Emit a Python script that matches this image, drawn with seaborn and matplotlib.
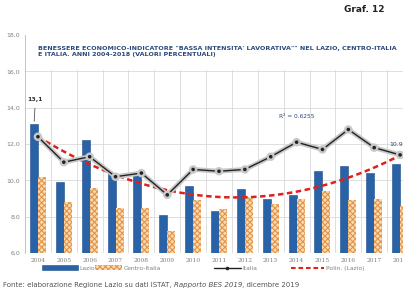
import numpy as np
import pandas as pd
import matplotlib
matplotlib.use("Agg")
import matplotlib.pyplot as plt
import seaborn as sns
from matplotlib.patches import Patch, Rectangle
from matplotlib.lines import Line2D
import matplotlib.patheffects as pe

years = ["2004", "2005", "2006", "2007", "2008", "2009", "2010", "2011",
         "2012", "2013", "2014", "2015", "2016", "2017", "2018"]
lazio = [13.1, 9.9, 12.2, 10.4, 10.3, 8.1, 9.7, 8.3, 9.5, 9.0, 9.2, 10.5, 10.8, 10.4, 10.9]
centro = [10.2, 8.8, 9.6, 8.5, 8.5, 7.2, 8.9, 8.4, 9.1, 8.7, 9.0, 9.4, 8.9, 9.0, 8.6]
italia = [12.4, 11.0, 11.3, 10.2, 10.4, 9.2, 10.6, 10.5, 10.6, 11.3, 12.1, 11.7, 12.8, 11.8, 11.4]
yticks = [6, 8, 10, 12, 14, 16, 18]

title = ("BENESSERE ECONOMICO-INDICATORE \"BASSA INTENSITA' LAVORATIVA\"\" NEL LAZIO, CENTRO-ITALIA\n"
         "E ITALIA. ANNI 2004-2018 (VALORI PERCENTUALI)")

BLUE = "#2a62a8"
ORANGE_FACE = "#f9dcb2"
ORANGE_HATCH = "#e3944a"
GRID = "#d9d9d9"
TXT = "#7f7f7f"
TITLE_C = "#2b4a7a"

sns.set_style("white")
plt.rcParams["font.family"] = ["DejaVu Sans"]
plt.rcParams["hatch.linewidth"] = 0.8

fig = plt.figure(figsize=(4.03, 2.93), dpi=100)
ax = fig.add_axes([25 / 403, 40 / 293, 388 / 403, 218 / 293])

df = pd.DataFrame({
    "anno": years * 2,
    "valore": lazio + centro,
    "serie": ["Lazio"] * len(years) + ["Centro-Italia"] * len(years),
})
sns.barplot(data=df, x="anno", y="valore", hue="serie", order=years,
            hue_order=["Lazio", "Centro-Italia"], saturation=1,
            palette=[BLUE, ORANGE_FACE], width=0.62, ax=ax,
            legend=False, errorbar=None, zorder=3, linewidth=0)

n = len(years)
for i, p in enumerate(ax.patches[:2 * n]):
    if i >= n:
        p.set_hatch("xxxxxx")
        p.set_edgecolor(ORANGE_HATCH)
        p.set_linewidth(0)
    else:
        p.set_edgecolor("#1d4c88")
        p.set_linewidth(0.4)

xpos = np.arange(n)
sns.regplot(x=xpos, y=np.array(lazio), order=2, ci=None, scatter=False, ax=ax,
            line_kws=dict(color="#e0201b", ls=(0, (2.2, 1.4)), lw=1.8, zorder=4))

sns.lineplot(x=xpos, y=italia, ax=ax, color="#222222", lw=1.0, marker="o",
             markersize=2.6, markeredgewidth=0, zorder=5,
             path_effects=[pe.withStroke(linewidth=3.5, foreground="#c8c8c8")])

ax.set_xlim(-0.5, n - 0.5)
ax.set_ylim(6, 18)
ax.set_yticks(yticks)
ax.set_yticklabels([f"{v:.1f}".replace(".", ",") for v in yticks],
                   fontsize=4.5, color=TXT)
ax.set_xticks(xpos)
ax.set_xticklabels(years, fontsize=4.3, color=TXT, family="DejaVu Serif")
ax.tick_params(axis="both", length=0, pad=3.5)
ax.set_xlabel("")
ax.set_ylabel("")

for k in range(n + 1):
    ax.axvline(k - 0.5, color=GRID, lw=0.6, zorder=1)
for v in yticks[:-1]:
    ax.axhline(v, color=GRID, lw=0.6, zorder=1)

for s in ["top", "right", "bottom"]:
    ax.spines[s].set_visible(False)
ax.spines["left"].set_color("#bfbfbf")
ax.spines["left"].set_linewidth(0.6)

# title area covering top band
ax.add_patch(Rectangle((-0.45, 16.05), n, 1.95, facecolor="white",
                       edgecolor="none", zorder=2))
ax.text(0.0, 17.4, title, fontsize=4.6, fontweight="bold", color=TITLE_C,
        va="top", ha="left", linespacing=1.3, zorder=6)

ax.text(10.0, 13.5, "R² = 0.6255", fontsize=4.2, color=TITLE_C, ha="center",
        va="center", zorder=6)

# data labels
ax.annotate("13,1", xy=(-0.15, lazio[0]), xytext=(-0.1, 14.3), fontsize=4.5,
            fontweight="bold", color="#333333", ha="center", va="bottom",
            arrowprops=dict(arrowstyle="-", color="#555555", lw=0.6), zorder=6)
ax.text(13.6, 11.95, "10.9", fontsize=4.5, color=TITLE_C, ha="left",
        va="center", zorder=6)

# legends
def add_leg(handle, label, x, hl):
    fig.legend([handle], [label], loc="center left", bbox_to_anchor=(x, 25 / 293),
               frameon=False, fontsize=4.3, handlelength=hl, handleheight=0.9,
               handletextpad=0.3, borderaxespad=0, borderpad=0,
               labelcolor=TXT)

add_leg(Patch(facecolor=BLUE, edgecolor="#1d4c88", lw=0.4), "Lazio", 42 / 403, 6.0)
add_leg(Patch(facecolor=ORANGE_FACE, hatch="xxxxxx", edgecolor=ORANGE_HATCH, lw=0),
        "Centro-Italia", 95 / 403, 4.5)
add_leg(Line2D([], [], color="#222222", lw=1.0, marker="o", markersize=2.6,
               markeredgewidth=0), "Italia", 214 / 403, 4.5)
add_leg(Line2D([], [], color="#e0201b", lw=1.5, ls=(0, (2.2, 1.4))),
        "Polin. (Lazio)", 291 / 403, 5.6)

# source line, chained pieces
t1 = fig.text(3 / 403, 1 - 287 / 293,
              "Fonte: elaborazione Regione Lazio su dati ISTAT, ",
              fontsize=5.0, color="#555555", va="baseline", ha="left")
t2 = fig.text(0, 0, "Rapporto BES 2019", fontsize=5.0, color="#555555",
              style="italic", va="baseline", ha="left")
t3 = fig.text(0, 0, ", dicembre 2019", fontsize=5.0, color="#555555",
              va="baseline", ha="left")
fig.canvas.draw()
r = fig.canvas.get_renderer()
bb1 = t1.get_window_extent(r)
y_fig = t1.get_position()[1]
t2.set_position((bb1.x1 / fig.bbox.width, y_fig))
bb2 = t2.get_window_extent(r)
t3.set_position((bb2.x1 / fig.bbox.width, y_fig))

fig.text(385 / 403, 1 - 9 / 293, "Graf. 12", fontsize=6.5, fontweight="bold",
         color="#222222", ha="right", va="center")

fig.savefig("out.png", dpi=100)
